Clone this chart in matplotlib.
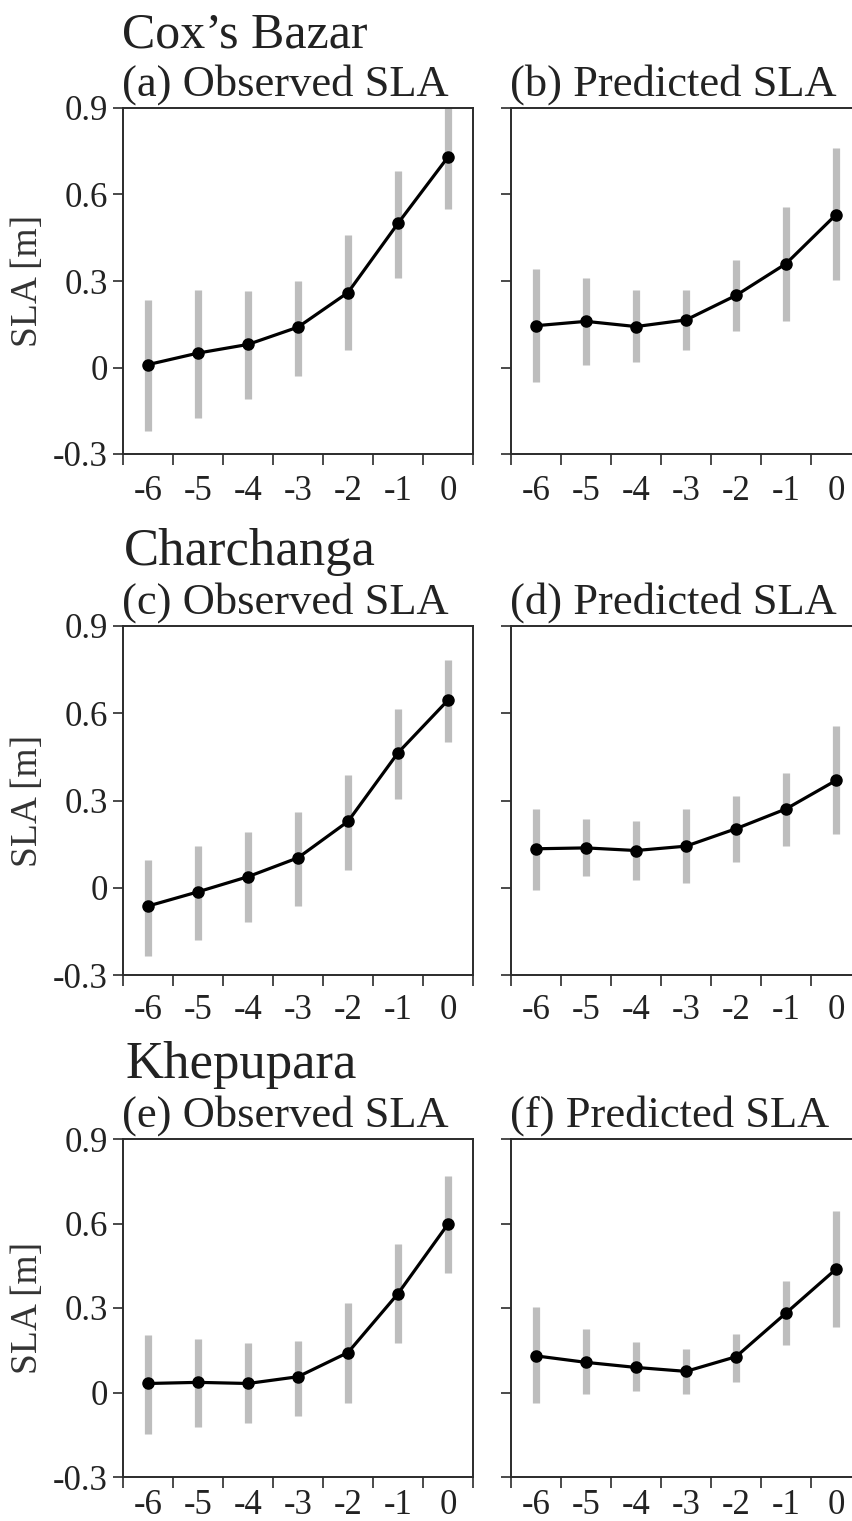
import matplotlib
matplotlib.use("Agg")
import matplotlib.pyplot as plt
import numpy as np

plt.rcParams['font.family'] = ['Liberation Serif', 'DejaVu Serif']

lead_days = [-6, -5, -4, -3, -2, -1, 0]
tick_labels = ['-6', '-5', '-4', '-3', '-2', '-1', '0']
stations = ["Cox\u2019s Bazar", "Charchanga", "Khepupara"]
panel_titles = [["(a) Observed SLA", "(b) Predicted SLA"],
                ["(c) Observed SLA", "(d) Predicted SLA"],
                ["(e) Observed SLA", "(f) Predicted SLA"]]

# Cox's Bazar
obs_cox = [0.01, 0.05, 0.08, 0.14, 0.26, 0.50, 0.73]
obs_cox_lo = [-0.22, -0.175, -0.11, -0.03, 0.06, 0.31, 0.55]
obs_cox_hi = [0.235, 0.27, 0.265, 0.30, 0.46, 0.68, 0.92]
pred_cox = [0.145, 0.16, 0.142, 0.165, 0.25, 0.36, 0.53]
pred_cox_lo = [-0.05, 0.007, 0.02, 0.06, 0.125, 0.163, 0.304]
pred_cox_hi = [0.34, 0.31, 0.268, 0.268, 0.372, 0.555, 0.76]

# Charchanga
obs_cha = [-0.063, -0.014, 0.038, 0.103, 0.228, 0.464, 0.645]
obs_cha_lo = [-0.235, -0.181, -0.118, -0.063, 0.06, 0.304, 0.50]
obs_cha_hi = [0.097, 0.143, 0.192, 0.261, 0.389, 0.613, 0.782]
pred_cha = [0.134, 0.137, 0.128, 0.143, 0.203, 0.271, 0.369]
pred_cha_lo = [-0.009, 0.039, 0.027, 0.016, 0.09, 0.145, 0.186]
pred_cha_hi = [0.271, 0.235, 0.228, 0.271, 0.314, 0.395, 0.556]

# Khepupara
obs_khe = [0.032, 0.036, 0.032, 0.056, 0.142, 0.351, 0.598]
obs_khe_lo = [-0.146, -0.124, -0.110, -0.083, -0.039, 0.174, 0.425]
obs_khe_hi = [0.204, 0.189, 0.176, 0.183, 0.316, 0.527, 0.768]
pred_khe = [0.13, 0.107, 0.089, 0.075, 0.127, 0.282, 0.438]
pred_khe_lo = [-0.036, -0.004, 0.004, -0.004, 0.039, 0.169, 0.233]
pred_khe_hi = [0.302, 0.225, 0.178, 0.154, 0.207, 0.396, 0.643]

series = [[(obs_cox, obs_cox_lo, obs_cox_hi), (pred_cox, pred_cox_lo, pred_cox_hi)],
          [(obs_cha, obs_cha_lo, obs_cha_hi), (pred_cha, pred_cha_lo, pred_cha_hi)],
          [(obs_khe, obs_khe_lo, obs_khe_hi), (pred_khe, pred_khe_lo, pred_khe_hi)]]

yticks = [-0.3, 0, 0.3, 0.6, 0.9]
ytick_labels = ['-0.3', '0', '0.3', '0.6', '0.9']

W, H = 853, 1521
fig = plt.figure(figsize=(W / 100, H / 100), dpi=100)

row_px = [(108, 454), (626, 975), (1139, 1477)]
col_px = [(123, 473), (511, 861)]
station_size = [36, 38, 38]
station_dx = [0, 2, 4]
xlabel_pad = [15, 14, 9]

spine_c = '#2b2b2b'
for r in range(3):
    for c in range(2):
        top, bot = row_px[r]
        left, right = col_px[c]
        ax = fig.add_axes([left / W, 1 - bot / H, (right - left) / W, (bot - top) / H])
        mean, lo, hi = series[r][c]
        ax.vlines(lead_days, lo, hi, colors='#bdbdbd', linewidth=5.2, zorder=1)
        ax.plot(lead_days, mean, color='black', linewidth=2.3, marker='o',
                markersize=8, zorder=3)
        ax.set_xlim(-6.5, 0.5)
        ax.set_ylim(-0.3, 0.9)
        ax.set_xticks(np.arange(-6.5, 1.0, 1.0))
        ax.set_xticklabels([])
        ax.set_xticks(lead_days, minor=True)
        ax.set_xticklabels(tick_labels, minor=True)
        ax.tick_params(axis='x', which='major', direction='out', length=8, width=1.2,
                       color=spine_c)
        ax.tick_params(axis='x', which='minor', length=0, pad=xlabel_pad[r],
                       labelsize=25, labelcolor='#222222')
        ax.set_yticks(yticks)
        if c == 0:
            ax.set_yticklabels(ytick_labels)
            ax.set_ylabel('SLA [m]', fontsize=27, color='#333333', labelpad=6)
        else:
            ax.set_yticklabels([])
        ax.tick_params(axis='y', direction='out', length=7, width=1.2, pad=4,
                       labelsize=25, color=spine_c, labelcolor='#222222')
        for s in ax.spines.values():
            s.set_linewidth(1.4)
            s.set_color(spine_c)
        hpx = bot - top
        ax.text(-0.003, 1 + 12 / hpx, panel_titles[r][c], transform=ax.transAxes,
                fontsize=32, ha='left', va='baseline', color='#222222')
        if c == 0:
            ax.text((station_dx[r] - 1) / (right - left), 1 + 61 / hpx, stations[r],
                    transform=ax.transAxes, fontsize=station_size[r],
                    ha='left', va='baseline', color='#222222')

fig.savefig('out.png', dpi=100)
